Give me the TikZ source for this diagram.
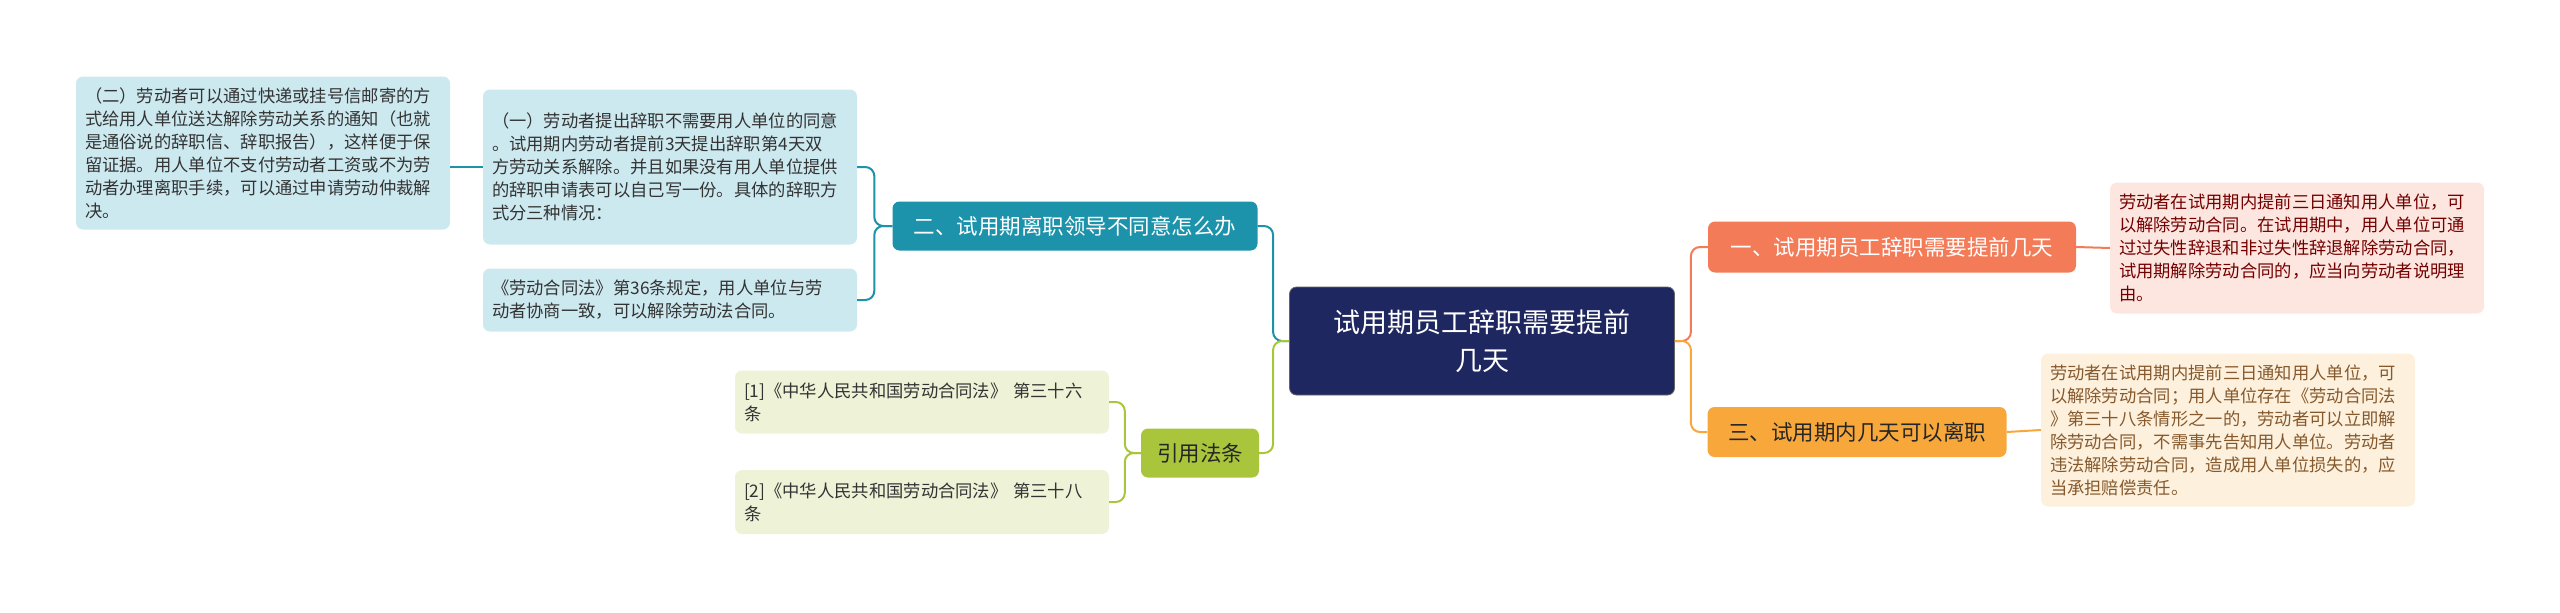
\documentclass[tikz,border=0pt]{standalone}
\usepackage{fontspec}
\setmainfont{Noto Sans CJK SC}
\begin{document}
\begin{tikzpicture}[x=1pt,y=-1pt,
  leaf/.style={rounded corners=7pt,inner xsep=9pt,inner ysep=4pt,align=left,font=\fontsize{17.3}{23}\selectfont,text=black!80},
  branch/.style={rounded corners=7pt,inner sep=0pt,align=center,text=white,font=\fontsize{21.5}{26}\selectfont},
  conn/.style={line width=2pt,rounded corners=9pt}]
\useasboundingbox (0,0) rectangle (2560,613);
\definecolor{teal}{HTML}{1C93AB}
\definecolor{tealbox}{HTML}{CDE9F0}
\definecolor{navy}{HTML}{1F2760}
\definecolor{orng}{HTML}{F47B57}
\definecolor{pinkbox}{HTML}{FDE6DF}
\definecolor{amb}{HTML}{F8A83B}
\definecolor{ambbox}{HTML}{FDF1DD}
\definecolor{grn}{HTML}{A9C53B}
\definecolor{grnbox}{HTML}{EEF2D6}

\node[leaf,fill=tealbox,text width=356pt,minimum height=153pt] (k2) at (263,153) {（二）劳动者可以通过快递或挂号信邮寄的方\\式给用人单位送达解除劳动关系的通知（也就\\是通俗说的辞职信、辞职报告），这样便于保\\留证据。用人单位不支付劳动者工资或不为劳\\动者办理离职手续，可以通过申请劳动仲裁解\\决。};
\node[leaf,fill=tealbox,text width=356pt,minimum height=155pt] (k1) at (670,167) {（一）劳动者提出辞职不需要用人单位的同意\\。试用期内劳动者提前3天提出辞职第4天双\\方劳动关系解除。并且如果没有用人单位提供\\的辞职申请表可以自己写一份。具体的辞职方\\式分三种情况：};
\node[leaf,fill=tealbox,text width=356pt,minimum height=63pt] (k3) at (670,300) {《劳动合同法》第36条规定，用人单位与劳\\动者协商一致，可以解除劳动法合同。};
\node[branch,fill=teal,minimum width=365pt,minimum height=49pt] (b2) at (1075,226) {二、试用期离职领导不同意怎么办};
\node[branch,fill=navy,draw=black!60,line width=0.8pt,minimum width=385pt,minimum height=108pt,font=\fontsize{27}{38}\selectfont] (c) at (1482,341) {试用期员工辞职需要提前\\几天};
\node[branch,fill=orng,minimum width=368pt,minimum height=51pt] (b1) at (1892,247) {一、试用期员工辞职需要提前几天};
\node[branch,fill=amb,minimum width=299pt,minimum height=50pt,text=black!85] (b3) at (1857,432) {三、试用期内几天可以离职};
\node[leaf,fill=pinkbox,text=red!45!black,text width=356pt,minimum height=131pt] (p1) at (2297,248) {劳动者在试用期内提前三日通知用人单位，可\\以解除劳动合同。在试用期中，用人单位可通\\过过失性辞退和非过失性辞退解除劳动合同，\\试用期解除劳动合同的，应当向劳动者说明理\\由。};
\node[leaf,fill=ambbox,text=brown!70!black,text width=356pt,minimum height=153pt] (p3) at (2228,430) {劳动者在试用期内提前三日通知用人单位，可\\以解除劳动合同；用人单位存在《劳动合同法\\》第三十八条情形之一的，劳动者可以立即解\\除劳动合同，不需事先告知用人单位。劳动者\\违法解除劳动合同，造成用人单位损失的，应\\当承担赔偿责任。};
\node[branch,fill=grn,minimum width=118pt,minimum height=49pt,text=black!85] (yin) at (1200,453) {引用法条};
\node[leaf,fill=grnbox,text width=356pt,minimum height=63pt] (r1) at (922,402) {[1]《中华人民共和国劳动合同法》 第三十六\\条};
\node[leaf,fill=grnbox,text width=356pt,minimum height=64pt] (r2) at (922,502) {[2]《中华人民共和国劳动合同法》 第三十八\\条};

\draw[conn,teal] (c.west) -- ++(-16,0) |- (b2.east);
\draw[conn,grn] (c.west) -- ++(-16,0) |- (yin.east);
\draw[conn,orng] (c.east) -- ++(16,0) |- (b1.west);
\draw[conn,amb] (c.east) -- ++(16,0) |- (b3.west);
\draw[conn,teal] (b2.west) -- ++(-18,0) |- (k1.east);
\draw[conn,teal] (b2.west) -- ++(-18,0) |- (k3.east);
\draw[conn,teal] (k1.west) -- (k2.east |- k1.west);
\draw[conn,grn] (yin.west) -- ++(-16,0) |- (r1.east);
\draw[conn,grn] (yin.west) -- ++(-16,0) |- (r2.east);
\draw[conn,orng] (b1.east) -- (p1.west);
\draw[conn,amb] (b3.east) -- (p3.west);
\end{tikzpicture}
\end{document}
